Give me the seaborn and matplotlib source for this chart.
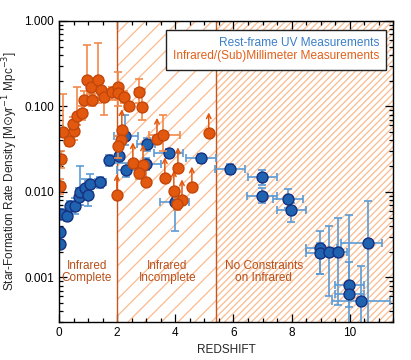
import numpy as np
import pandas as pd
import matplotlib
matplotlib.use('Agg')
import matplotlib.pyplot as plt
import seaborn as sns
from matplotlib.lines import Line2D
from matplotlib.ticker import FixedLocator, MultipleLocator, LogLocator, NullFormatter, FuncFormatter

# ---------------- data ----------------
# Rest-frame UV measurements
uv_z = [0.02, 0.02, 0.07, 0.27, 0.38, 0.55, 0.69, 0.72, 0.89, 1.00, 1.06, 1.41, 1.72,
        2.06, 2.27, 2.30, 2.99, 3.02, 3.78, 3.99, 4.88, 5.88, 6.98, 6.98, 7.87, 7.97,
        8.97, 8.97, 9.28, 9.59, 10.62, 9.97, 9.97, 10.38]
uv_zlo = [0.02, 0.02, 0.07, 0.27, 0.30, 0.55, 0.69, 0.72, 0.89, 1.00, 1.06, 1.25, 1.72,
          1.95, 1.90, 2.00, 2.50, 2.68, 3.26, 3.47, 4.36, 5.35, 6.50, 6.45, 7.35, 7.50,
          8.50, 8.50, 9.28, 9.59, 9.70, 9.50, 9.50, 9.40]
uv_zhi = [0.02, 0.02, 0.07, 0.27, 0.45, 0.55, 0.69, 0.72, 0.89, 1.00, 1.06, 1.60, 1.72,
          2.20, 2.70, 2.60, 3.50, 3.30, 4.26, 4.47, 5.40, 6.40, 7.50, 7.50, 8.40, 8.50,
          9.55, 9.50, 9.28, 9.90, 11.10, 10.50, 10.50, 11.40]
uv_sfrd = [0.00244, 0.00338, 0.0055, 0.0052, 0.0068, 0.0068, 0.0087, 0.0099, 0.0111,
           0.0092, 0.0123, 0.0130, 0.0234, 0.0262, 0.0450, 0.0180, 0.0211, 0.0362,
           0.0284, 0.0076, 0.0248, 0.0184, 0.0149, 0.0089, 0.0082, 0.0061, 0.0022,
           0.0019, 0.00197, 0.00197, 0.0025, 0.00081, 0.00064, 0.00053]
uv_lo = [0.0022, 0.0030, 0.0048, 0.0045, 0.0058, 0.0055, 0.0070, 0.0070, 0.0090,
         0.0068, 0.0100, 0.0110, 0.0200, 0.0220, 0.0350, 0.0150, 0.0180, 0.0300,
         0.0250, 0.0035, 0.0220, 0.0160, 0.0120, 0.0075, 0.0065, 0.0044, 0.0011,
         0.0011, 0.0006, 0.00048, 0.0002, 0.0002, 0.00045, 0.0002]
uv_hi = [0.0027, 0.0038, 0.0063, 0.0060, 0.0078, 0.0085, 0.0110, 0.0200, 0.0140,
         0.0125, 0.0160, 0.0150, 0.0270, 0.0320, 0.0800, 0.0220, 0.0250, 0.0430,
         0.0320, 0.0085, 0.0280, 0.0210, 0.0180, 0.0110, 0.0107, 0.0075, 0.0035,
         0.0025, 0.0040, 0.0049, 0.0079, 0.0053, 0.0015, 0.00137]

# Infrared / (sub)millimeter measurements
ir_z = [0.14, 0.07, 0.03, 0.34, 0.52, 0.48, 0.62, 0.79, 0.86, 0.96, 1.10, 1.13, 1.34,
        1.44, 1.55, 1.82, 2.03, 2.03, 2.23, 2.41, 2.75, 2.85, 2.16, 2.13, 2.03, 1.99,
        3.37, 3.57, 5.15, 2.54, 2.89, 2.75, 2.99, 3.64, 4.09, 3.95, 4.57, 4.23, 4.06]
ir_zlo = [0.14, 0.07, 0.03, 0.34, 0.52, 0.48, 0.62, 0.79, 0.86, 0.90, 1.10, 1.13, 1.25,
          1.35, 1.55, 1.82, 1.95, 2.03, 2.23, 2.41, 2.60, 2.85, 2.16, 2.13, 2.03, 1.99,
          3.37, 3.10, 5.15, 2.54, 2.89, 2.75, 2.99, 3.64, 4.09, 3.95, 4.57, 4.23, 4.06]
ir_zhi = [0.14, 0.07, 0.03, 0.34, 0.52, 0.48, 0.62, 0.79, 0.86, 1.02, 1.10, 1.13, 1.45,
          1.52, 1.55, 1.82, 2.12, 2.03, 2.23, 2.41, 2.90, 2.85, 2.16, 2.13, 2.03, 1.99,
          3.37, 4.16, 5.15, 2.54, 2.89, 2.75, 2.99, 3.64, 4.09, 3.95, 4.57, 4.23, 4.06]
ir_sfrd = [0.050, 0.0241, 0.0117, 0.039, 0.051, 0.063, 0.077, 0.083, 0.118, 0.202,
           0.168, 0.118, 0.202, 0.155, 0.128, 0.147, 0.168, 0.143, 0.128, 0.100,
           0.147, 0.098, 0.053, 0.041, 0.034, 0.0092, 0.042, 0.046, 0.0486, 0.0217,
           0.0205, 0.0166, 0.013, 0.0145, 0.019, 0.0102, 0.0113, 0.008, 0.0072]
ir_lo = [0.045, 0.019, 0.0095, 0.034, 0.040, 0.050, 0.060, 0.070, 0.090, 0.120,
         0.140, 0.100, 0.110, 0.120, 0.080, 0.120, 0.100, 0.120, 0.110, 0.090,
         0.110, 0.070, 0.053, 0.035, 0.025, 0.0092, 0.042, 0.030, 0.0486, 0.0217,
         0.0205, 0.014, 0.013, 0.0145, 0.019, 0.0102, 0.0113, 0.008, 0.0062]
ir_hi = [0.140, 0.030, 0.014, 0.045, 0.065, 0.075, 0.170, 0.100, 0.150, 0.530,
         0.200, 0.140, 0.560, 0.200, 0.160, 0.170, 0.250, 0.170, 0.150, 0.110,
         0.210, 0.160, 0.053, 0.050, 0.045, 0.0092, 0.042, 0.080, 0.0486, 0.0217,
         0.0205, 0.019, 0.013, 0.0145, 0.019, 0.0102, 0.0113, 0.008, 0.0085]
ir_limit = [False, False, False, False, False, False, False, False, False, False,
            False, False, False, False, False, False, False, False, False, False,
            False, False, True, False, False, True, True, False, True, True,
            True, False, True, True, True, True, True, True, False]

regions_x = [2.0, 5.4, 11.5]
region_labels = ["Infrared\nComplete", "Infrared\nIncomplete", "No Constraints\non Infrared"]
region_label_x = [0.96, 3.73, 7.04]
legend_labels = ["Rest-frame UV Measurements", "Infrared/(Sub)Millimeter Measurements"]
ytick_vals = [0.001, 0.01, 0.1, 1.0]
xtick_vals = [0, 2, 4, 6, 8, 10]

# ---------------- styling ----------------
sns.set_style('ticks')
plt.rcParams['font.family'] = ['Liberation Sans', 'DejaVu Sans']
plt.rcParams['hatch.linewidth'] = 0.9

BLUE = '#1f62b0'
BLUE_EDGE = '#16307f'
BLUE_ERR = '#5b9bd5'
ORANGE = '#e2580f'
ORANGE_EDGE = '#c2470a'
ORANGE_ERR = '#f28a4a'
HATCH = '#fbbb8e'
LINE = '#c9541c'
TXT = '#b8501c'

fig = plt.figure(figsize=(4.11, 3.60), dpi=100)
ax = fig.add_axes([0.1436, 0.1056, 0.8134, 0.8361])
ax.set_yscale('log')
ax.set_xlim(0, 11.5)
ax.set_ylim(3.0e-4, 1.0)

# hatched regions
ax.axvspan(regions_x[0], regions_x[1], facecolor='none', edgecolor=HATCH,
           hatch='//', linewidth=0, zorder=0)
ax.axvspan(regions_x[1], regions_x[2], facecolor='none', edgecolor=HATCH,
           hatch='/////', linewidth=0, zorder=0)
for xv in regions_x[:2]:
    ax.axvline(xv, color=LINE, lw=1.0, zorder=1)

uv = pd.DataFrame({'z': uv_z, 'zlo': uv_zlo, 'zhi': uv_zhi,
                   'sfrd': uv_sfrd, 'lo': uv_lo, 'hi': uv_hi})
ir = pd.DataFrame({'z': ir_z, 'zlo': ir_zlo, 'zhi': ir_zhi,
                   'sfrd': ir_sfrd, 'lo': ir_lo, 'hi': ir_hi, 'lim': ir_limit})

# UV error bars + points
ax.errorbar(uv['z'], uv['sfrd'],
            yerr=[uv['sfrd'] - uv['lo'], uv['hi'] - uv['sfrd']],
            xerr=[uv['z'] - uv['zlo'], uv['zhi'] - uv['z']],
            fmt='none', ecolor=BLUE_ERR, elinewidth=1.2, capsize=2.8, capthick=1.2,
            zorder=3)
sns.scatterplot(data=uv, x='z', y='sfrd', ax=ax, s=62, color=BLUE,
                edgecolor=BLUE_EDGE, linewidth=1.0, zorder=4, legend=False)

# IR error bars + points
ax.errorbar(ir['z'], ir['sfrd'],
            yerr=[ir['sfrd'] - ir['lo'], ir['hi'] - ir['sfrd']],
            xerr=[ir['z'] - ir['zlo'], ir['zhi'] - ir['z']],
            fmt='none', ecolor=ORANGE_ERR, elinewidth=1.2, capsize=2.8, capthick=1.2,
            zorder=5)
for _, r in ir[ir['lim']].iterrows():
    ax.annotate('', xy=(r['z'], r['sfrd'] * 1.75), xytext=(r['z'], r['sfrd']),
                arrowprops=dict(arrowstyle='->', color=ORANGE, lw=1.1,
                                mutation_scale=8, shrinkA=0, shrinkB=0),
                zorder=5)
sns.scatterplot(data=ir, x='z', y='sfrd', ax=ax, s=62, color=ORANGE,
                edgecolor=ORANGE_EDGE, linewidth=1.0, zorder=6, legend=False)

# region labels
for lx, lt in zip(region_label_x, region_labels):
    ax.text(lx, 0.00115, lt, color=TXT, fontsize=8.5, ha='center', va='center',
            linespacing=0.95, zorder=7)

# legend
handles = [Line2D([], [], linestyle='none') for _ in legend_labels]
leg = ax.legend(handles, legend_labels, loc='upper right',
                bbox_to_anchor=(0.979, 0.970), bbox_transform=ax.transAxes,
                borderaxespad=0, handlelength=0, handletextpad=0,
                markerfirst=False, labelcolor=['#3a7fc8', '#e2601a'],
                fontsize=8.6, frameon=True, fancybox=False, framealpha=1,
                edgecolor='#222222', borderpad=0.6, labelspacing=0.1)
leg.get_frame().set_linewidth(1.0)
leg.set_zorder(10)

# axes/ticks
ax.set_xlabel('REDSHIFT', fontsize=8.5, labelpad=4)
ax.set_ylabel(r'Star-Formation Rate Density [M$\odot$yr$^{-1}$ Mpc$^{-3}$]',
              fontsize=8.5, labelpad=3)
ax.xaxis.set_major_locator(FixedLocator(xtick_vals))
ax.xaxis.set_minor_locator(MultipleLocator(0.5))
ax.set_xticklabels([str(v) for v in xtick_vals])
ax.yaxis.set_major_locator(FixedLocator(ytick_vals))
ax.yaxis.set_major_formatter(FuncFormatter(lambda v, p: f'{v:.3f}'))
ax.yaxis.set_minor_locator(LogLocator(base=10, subs=np.arange(2, 10)))
ax.yaxis.set_minor_formatter(NullFormatter())
ax.tick_params(which='both', direction='in', top=True, right=True, colors='black',
               labelsize=8.5, width=0.9)
ax.tick_params(which='major', length=6)
ax.tick_params(which='minor', length=3)
for s in ax.spines.values():
    s.set_linewidth(1.0)
    s.set_color('black')
    s.set_zorder(11)

fig.savefig('out.png', dpi=100)
